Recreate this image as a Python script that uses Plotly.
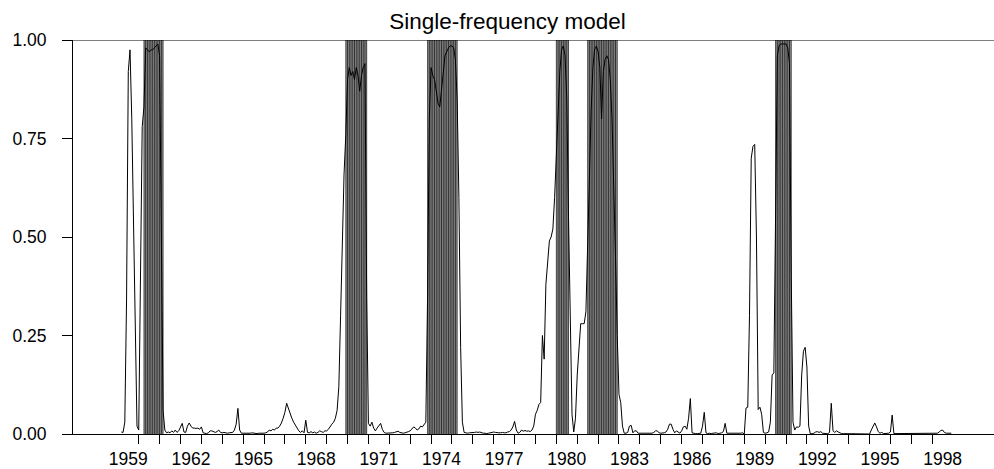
import plotly.graph_objects as go

# ---------------- data (monthly recession probabilities) ----------------
start_year = 1959
start_month_index = 2  # March 1959 (months counted from Jan 1959)

p_1959_1964 = [
    0.005, 0.004, 0.03, 0.34, 0.92, 0.975, 0.80, 0.50, 0.20, 0.02,            # 1959 Mar-Dec
    0.01, 0.35, 0.78, 0.83, 0.98, 0.975, 0.97, 0.975, 0.975, 0.98, 0.985, 0.99,  # 1960
    0.96, 0.5, 0.06, 0.01, 0.003, 0.005, 0.003, 0.008, 0.004, 0.01, 0.004, 0.008,  # 1961
    0.02, 0.027, 0.005, 0.004, 0.02, 0.028, 0.02, 0.015, 0.015, 0.014, 0.015, 0.012,  # 1962
    0.018, 0.003, 0.002, 0.001, 0.003, 0.008, 0.008, 0.006, 0.004, 0.006, 0.01, 0.004,  # 1963
    0.003, 0.004, 0.002, 0.002, 0.003, 0.003, 0.004, 0.01, 0.025, 0.065, 0.01, 0.002,  # 1964
]
p_1965_1972 = [
    0.002, 0.001, 0.002, 0.001, 0.002, 0.003, 0.002, 0.002, 0.001, 0.002, 0.002, 0.001,  # 1965
    0.002, 0.003, 0.005, 0.01, 0.008, 0.012, 0.01, 0.015, 0.015, 0.02, 0.028, 0.04,  # 1966
    0.055, 0.078, 0.065, 0.05, 0.04, 0.03, 0.022, 0.014, 0.008, 0.004, 0.008, 0.003,  # 1967
    0.035, 0.004, 0.003, 0.006, 0.003, 0.005, 0.002, 0.004, 0.008, 0.006, 0.004, 0.008,  # 1968
    0.008, 0.012, 0.02, 0.025, 0.03, 0.04, 0.06, 0.12, 0.30, 0.49, 0.66, 0.76,  # 1969
    0.90, 0.93, 0.91, 0.92, 0.90, 0.93, 0.91, 0.87, 0.91, 0.93, 0.94, 0.35,  # 1970
    0.027, 0.02, 0.03, 0.015, 0.008, 0.015, 0.02, 0.027, 0.012, 0.004, 0.002, 0.002,  # 1971
    0.003, 0.002, 0.003, 0.004, 0.006, 0.007, 0.004, 0.002, 0.002, 0.003, 0.004, 0.006,  # 1972
]
p_1973_1980 = [
    0.008, 0.012, 0.018, 0.015, 0.01, 0.013, 0.02, 0.018, 0.025, 0.03, 0.35, 0.80,  # 1973
    0.93, 0.91, 0.90, 0.87, 0.84, 0.83, 0.88, 0.93, 0.96, 0.97, 0.98, 0.985,  # 1974
    0.985, 0.98, 0.95, 0.85, 0.6, 0.22, 0.03, 0.004, 0.002, 0.002, 0.003, 0.003,  # 1975
    0.003, 0.004, 0.005, 0.004, 0.005, 0.003, 0.002, 0.002, 0.001, 0.002, 0.003, 0.004,  # 1976
    0.005, 0.004, 0.003, 0.003, 0.003, 0.004, 0.003, 0.003, 0.005, 0.006, 0.01, 0.018,  # 1977
    0.032, 0.01, 0.002, 0.004, 0.01, 0.007, 0.009, 0.007, 0.008, 0.006, 0.01, 0.02,  # 1978
    0.05, 0.06, 0.075, 0.08, 0.25, 0.19, 0.38, 0.44, 0.49, 0.50, 0.52, 0.60,  # 1979
    0.70, 0.80, 0.92, 0.975, 0.985, 0.96, 0.85, 0.55, 0.25, 0.05, 0.005, 0.04,  # 1980
]
p_1981_1988 = [
    0.15, 0.22, 0.28, 0.28, 0.28, 0.31, 0.45, 0.65, 0.82, 0.93, 0.975, 0.985,  # 1981
    0.97, 0.93, 0.80, 0.92, 0.95, 0.96, 0.95, 0.90, 0.80, 0.65, 0.45, 0.25,  # 1982
    0.10, 0.08, 0.02, 0.002, 0.002, 0.004, 0.02, 0.022, 0.003, 0.008, 0.008, 0.002,  # 1983
    0.002, 0.001, 0.001, 0.001, 0.001, 0.002, 0.002, 0.002, 0.004, 0.008, 0.008, 0.003,  # 1984
    0.002, 0.002, 0.003, 0.005, 0.012, 0.025, 0.025, 0.012, 0.003, 0.008, 0.004, 0.002,  # 1985
    0.008, 0.018, 0.02, 0.012, 0.04, 0.09, 0.003, 0.001, 0.001, 0.001, 0.001, 0.002,  # 1986
    0.02, 0.055, 0.003, 0.001, 0.002, 0.001, 0.002, 0.002, 0.003, 0.001, 0.002, 0.003,  # 1987
    0.006, 0.027, 0.002, 0.002, 0.001, 0.002, 0.002, 0.002, 0.002, 0.002, 0.002, 0.003,  # 1988
]
p_1989_1998 = [
    0.0, 0.066, 0.068, 0.30, 0.70, 0.73, 0.735, 0.50, 0.062, 0.068, 0.05, 0.004,  # 1989
    0.002, 0.003, 0.005, 0.03, 0.15, 0.155, 0.60, 0.96, 0.985, 0.99, 0.99, 0.99,  # 1990
    0.99, 0.98, 0.94, 0.40, 0.03, 0.01, 0.018, 0.017, 0.02, 0.15, 0.21, 0.22,  # 1991
    0.17, 0.02, 0.0, 0.001, 0.002, 0.005, 0.006, 0.004, 0.006, 0.002, 0.001, 0.001,  # 1992
    0.001, 0.004, 0.078, 0.008, 0.004, 0.008, 0.005, 0.002, 0.001, 0.001, 0.001, 0.001,  # 1993
    0.001, 0.001, 0.001, 0.001, 0.001, 0.001, 0.001, 0.001, 0.001, 0.001, 0.001, 0.001,  # 1994
    0.0, 0.01, 0.02, 0.028, 0.018, 0.006, 0.002, 0.004, 0.001, 0.001, 0.001, 0.002,  # 1995
    0.005, 0.048, 0.001, 0.001, 0.001, 0.001, 0.001, 0.001, 0.001, 0.001, 0.001, 0.001,  # 1996
    0.001, 0.001, 0.001, 0.001, 0.001, 0.001, 0.001, 0.001, 0.001, 0.001, 0.001, 0.001,  # 1997
    0.001, 0.001, 0.001, 0.002, 0.005, 0.009, 0.01, 0.004, 0.002, 0.002, 0.002, 0.002,  # 1998
]

# NBER recessions (start year, start month, end year, end month)
recessions = [
    (1960, 4, 1961, 2),
    (1969, 12, 1970, 11),
    (1973, 11, 1975, 3),
    (1980, 1, 1980, 7),
    (1981, 7, 1982, 11),
    (1990, 7, 1991, 3),
]

label_years = list(range(1959, 1999, 3))
tick_years = list(range(1960, 1999))
y_ticks = [0, 0.25, 0.5, 0.75, 1.0]
title_text = "Single-frequency model"

# ---------------- build ----------------
prob = p_1959_1964 + p_1965_1972 + p_1973_1980 + p_1981_1988 + p_1989_1998
dates = [start_year + (start_month_index + i) / 12.0 for i in range(len(prob))]

shapes = []
hx, hy = [], []
for (sy, sm, ey, em) in recessions:
    a = sy + (sm - 1) / 12.0
    b = ey + em / 12.0
    shapes.append(dict(type="rect", xref="x", yref="y", x0=a, x1=b, y0=0, y1=1,
                       fillcolor="#939393", line=dict(width=0), layer="below"))
    nmonths = int(round((b - a) * 12))
    for k in range(nmonths + 1):
        xv = a + k / 12.0
        hx += [xv, xv, None]
        hy += [0, 1, None]

# top line at 1.0
shapes.append(dict(type="line", xref="paper", yref="y", x0=0, x1=1, y0=1, y1=1,
                   line=dict(color="black", width=1)))

x_range = [1956.852, 2000.96]
FONT = "Liberation Sans, Arial, sans-serif"

fig = go.Figure()
fig.add_trace(go.Scatter(x=hx, y=hy, mode="lines", line=dict(color="black", width=0.65),
                         hoverinfo="skip", showlegend=False, cliponaxis=True))
fig.add_trace(go.Scatter(x=dates, y=prob, mode="lines", line=dict(color="black", width=1),
                         showlegend=False))
# invisible trace on second x axis for labels
fig.add_trace(go.Scatter(x=[x_range[0]], y=[0], xaxis="x2", mode="markers",
                         marker=dict(opacity=0), showlegend=False, hoverinfo="skip"))

fig.update_layout(
    width=994, height=469,
    margin=dict(l=73, r=0, t=40, b=35),
    paper_bgcolor="white", plot_bgcolor="white",
    font=dict(family=FONT, color="black", size=17.5),
    shapes=shapes,
    title=dict(text=title_text, x=507.5 / 994, xanchor="center", xref="container",
               y=1 - 21 / 469, yanchor="middle", yref="container",
               font=dict(size=22.5, family=FONT, color="black")),
    xaxis=dict(range=x_range, showgrid=False, zeroline=False, showline=True,
               linecolor="black", linewidth=1, ticks="outside", ticklen=9,
               tickwidth=1, tickcolor="black", tickvals=tick_years,
               showticklabels=False),
    xaxis2=dict(range=x_range, overlaying="x", side="bottom", showgrid=False,
                zeroline=False, showline=False, ticks="outside", ticklen=9,
                tickcolor="rgba(0,0,0,0)",
                tickvals=[yr + 0.5 for yr in label_years],
                ticktext=[str(yr) for yr in label_years],
                tickfont=dict(size=17.5, family=FONT, color="black")),
    yaxis=dict(range=[0, 1], showgrid=False, zeroline=False, showline=True,
               linecolor="black", linewidth=1, ticks="outside", ticklen=10,
               tickwidth=1, tickcolor="black", tickvals=y_ticks,
               ticktext=["%.2f" % v for v in y_ticks], ticklabelstandoff=12,
               tickfont=dict(size=17.5, family=FONT, color="black")),
)

fig.write_html("out.html")
